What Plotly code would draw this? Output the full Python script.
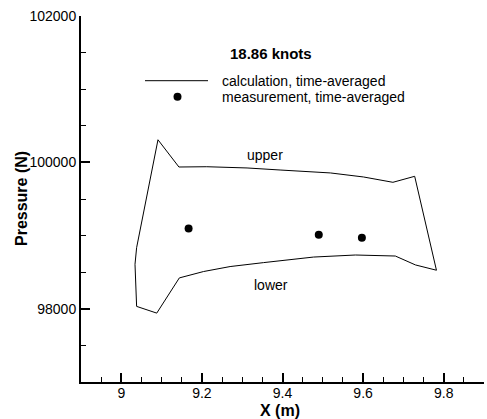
import plotly.graph_objects as go

# Calculation, time-averaged (closed contour: upper then lower surface)
x_calc = [9.034, 9.038, 9.091, 9.143, 9.212, 9.312, 9.394, 9.519, 9.601, 9.674, 9.728,
          9.782, 9.730, 9.680, 9.581, 9.477, 9.353, 9.270, 9.204, 9.144, 9.088, 9.038, 9.034]
p_calc = [98608, 98835, 100309, 99937, 99941, 99924, 99896, 99856, 99801, 99728, 99810,
          98527, 98599, 98721, 98735, 98707, 98631, 98577, 98509, 98422, 97941, 98033, 98608]

# Measurement, time-averaged
x_meas = [9.167, 9.490, 9.597]
p_meas = [99098, 99012, 98971]

title_text = "18.86 knots"
legend_labels = ["calculation, time-averaged", "measurement, time-averaged"]
region_labels = ["upper", "lower"]
region_x = [9.357, 9.371]
region_p = [100105, 98327]

FONT = "Liberation Sans, Arial, sans-serif"
W, H = 487, 419
L, R, T, B = 81, 3, 16, 37
pw, ph = W - L - R, H - T - B


def px(x):
    return (x - L) / pw


def py(y):
    return (H - B - y) / ph


fig = go.Figure()
fig.add_trace(go.Scatter(x=x_calc, y=p_calc, mode="lines",
                         line=dict(color="black", width=1), showlegend=False))
fig.add_trace(go.Scatter(x=x_meas, y=p_meas, mode="markers",
                         marker=dict(color="black", size=8), showlegend=False))

for t, xx, yy in zip(region_labels, region_x, region_p):
    fig.add_annotation(x=xx, y=yy, text=t, showarrow=False, xanchor="center", yanchor="middle",
                       font=dict(family=FONT, size=14, color="black"))

# title
fig.add_annotation(x=px(271), y=py(53), xref="paper", yref="paper", text="<b>%s</b>" % title_text,
                   showarrow=False, xanchor="center", yanchor="middle",
                   font=dict(family=FONT, size=15, color="black"))
# legend
fig.add_shape(type="line", xref="paper", yref="paper", x0=px(145), x1=px(208),
              y0=py(80.7), y1=py(80.7), line=dict(color="black", width=1))
fig.add_shape(type="circle", xref="paper", yref="paper", xsizemode="pixel", ysizemode="pixel",
              xanchor=px(177.5), yanchor=py(96.7), x0=-4, x1=4, y0=-4, y1=4,
              fillcolor="black", line=dict(color="black", width=0))
fig.add_annotation(x=px(220), y=py(80.7), xref="paper", yref="paper", text=legend_labels[0],
                   xanchor="left", yanchor="middle", showarrow=False,
                   font=dict(family=FONT, size=14, color="black"))
fig.add_annotation(x=px(220), y=py(96.7), xref="paper", yref="paper", text=legend_labels[1],
                   xanchor="left", yanchor="middle", showarrow=False,
                   font=dict(family=FONT, size=14, color="black"))

# axis titles
fig.add_annotation(x=px(280), y=py(410), xref="paper", yref="paper", text="<b>X (m)</b>",
                   showarrow=False, xanchor="center", yanchor="middle",
                   font=dict(family=FONT, size=16, color="black"))
fig.add_annotation(x=px(21), y=py(199), xref="paper", yref="paper", text="<b>Pressure (N)</b>",
                   textangle=-90, showarrow=False, xanchor="center", yanchor="middle",
                   font=dict(family=FONT, size=16, color="black"))

fig.update_xaxes(range=[8.9, 9.9], tick0=9, dtick=0.2, ticks="inside", ticklen=9, tickwidth=1.5,
                 tickcolor="black", showline=True, linecolor="black", linewidth=2, showgrid=False,
                 zeroline=False, tickfont=dict(family=FONT, size=14, color="black"),
                 ticklabelstandoff=-3,
                 minor=dict(dtick=0.05, tick0=9, ticks="inside", ticklen=5, tickwidth=1, tickcolor="black",
                            showgrid=False))
fig.update_yaxes(range=[97000, 102000], tick0=98000, dtick=2000, tickformat="d", ticks="inside",
                 ticklen=9, tickwidth=1.5,
                 tickcolor="black", showline=True, linecolor="black", linewidth=2, showgrid=False,
                 zeroline=False, tickfont=dict(family=FONT, size=14, color="black"),
                 minor=dict(dtick=500, tick0=97000, ticks="inside", ticklen=5, tickwidth=1, tickcolor="black",
                            showgrid=False))
fig.update_layout(width=W, height=H, margin=dict(l=L, r=R, t=T, b=B),
                  plot_bgcolor="white", paper_bgcolor="white", showlegend=False)
fig.write_html("out.html")
